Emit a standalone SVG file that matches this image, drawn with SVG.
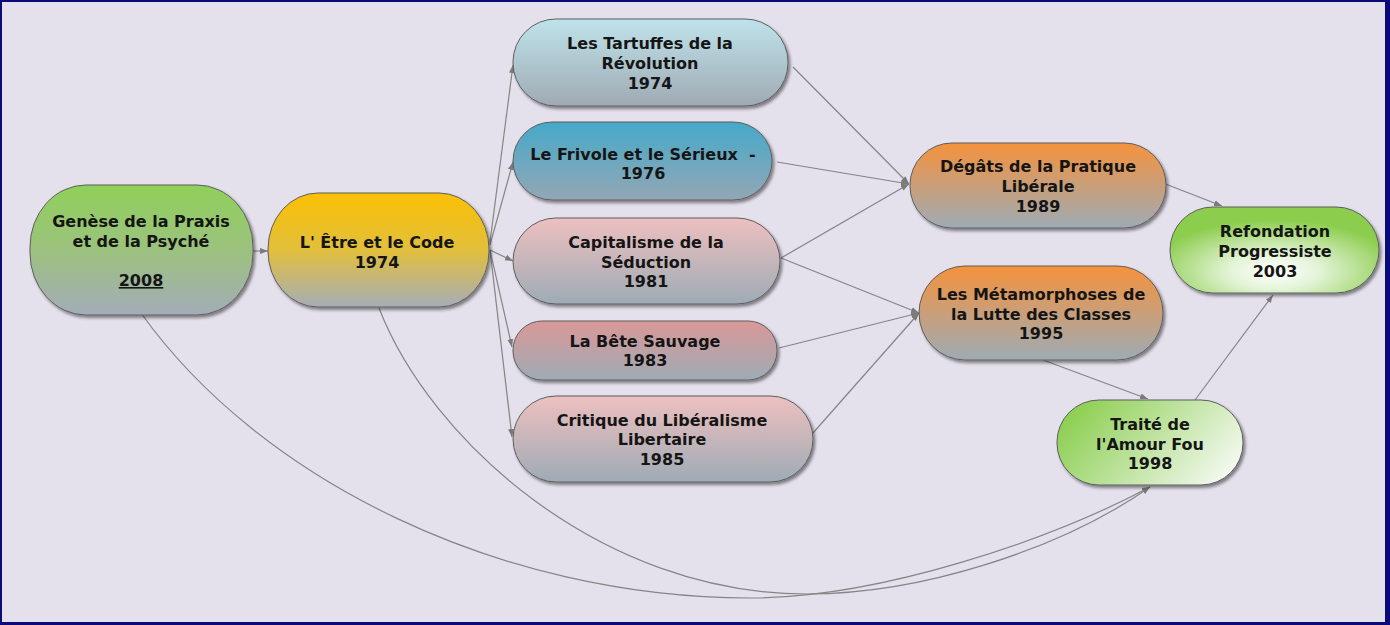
<svg xmlns="http://www.w3.org/2000/svg" width="1390" height="625" viewBox="0 0 1390 625">
<style>
.t{font-family:"DejaVu Sans",Verdana,sans-serif;font-weight:bold;font-size:16px;fill:#151515;text-anchor:middle}
.n{stroke:#5e5e5e;stroke-width:1}
.c{fill:none;stroke:#858585;stroke-width:1.2}
</style>
<defs>
<filter id="sh" x="-10%" y="-10%" width="125%" height="130%">
<feDropShadow dx="2" dy="2.5" stdDeviation="1.6" flood-color="#000" flood-opacity="0.45"/>
</filter>
<marker id="ar" markerUnits="userSpaceOnUse" markerWidth="9" markerHeight="7" refX="8" refY="3.5" orient="auto">
<path d="M0,0.5 L8,3.5 L0,6.5 Z" fill="#7a7a7a"/>
</marker>
<linearGradient id="gGen" x1="0" y1="0" x2="0" y2="1">
<stop offset="0" stop-color="#8fd05a"/><stop offset="0.5" stop-color="#9cc27e"/><stop offset="1" stop-color="#a3acb8"/>
</linearGradient>
<linearGradient id="gEtre" x1="0" y1="0" x2="0" y2="1">
<stop offset="0" stop-color="#fbc004"/><stop offset="0.5" stop-color="#e2bf3c"/><stop offset="1" stop-color="#a6adb8"/>
</linearGradient>
<linearGradient id="gTar" x1="0" y1="0" x2="0" y2="1">
<stop offset="0" stop-color="#bfe3eb"/><stop offset="1" stop-color="#9faab3"/>
</linearGradient>
<linearGradient id="gFri" x1="0" y1="0" x2="0" y2="1">
<stop offset="0" stop-color="#45a9c9"/><stop offset="1" stop-color="#93a7b5"/>
</linearGradient>
<linearGradient id="gPink" x1="0" y1="0" x2="0" y2="1">
<stop offset="0" stop-color="#eec0c0"/><stop offset="1" stop-color="#9eabb5"/>
</linearGradient>
<linearGradient id="gBete" x1="0" y1="0" x2="0" y2="1">
<stop offset="0" stop-color="#da9898"/><stop offset="1" stop-color="#9eabb5"/>
</linearGradient>
<linearGradient id="gOr" x1="0" y1="0" x2="0" y2="1">
<stop offset="0" stop-color="#f5923c"/><stop offset="1" stop-color="#9eabb5"/>
</linearGradient>
<radialGradient id="gRef" cx="0.5" cy="0.75" r="0.6">
<stop offset="0" stop-color="#ffffff"/><stop offset="0.35" stop-color="#e4f4d8"/><stop offset="1" stop-color="#8ccd4e"/>
</radialGradient>
<linearGradient id="gTra" x1="0" y1="0.3" x2="1" y2="0.7">
<stop offset="0" stop-color="#8ccf50"/><stop offset="0.5" stop-color="#bfe3a0"/><stop offset="1" stop-color="#f4f9f0"/>
</linearGradient>
</defs>
<rect x="0" y="0" width="1390" height="625" fill="#0a0a78"/>
<rect x="2" y="2" width="1383" height="620" fill="#e4e0ec"/>

<g id="connectors">
<line class="c" x1="253" y1="251" x2="268" y2="251" marker-end="url(#ar)"/>
<line class="c" x1="490" y1="242" x2="513" y2="65" marker-end="url(#ar)"/>
<line class="c" x1="490" y1="245" x2="513" y2="162" marker-end="url(#ar)"/>
<line class="c" x1="490" y1="250" x2="513" y2="261" marker-end="url(#ar)"/>
<line class="c" x1="490" y1="250" x2="512" y2="347" marker-end="url(#ar)"/>
<line class="c" x1="490" y1="250" x2="512" y2="437" marker-end="url(#ar)"/>
<line class="c" x1="793" y1="67" x2="909" y2="184" marker-end="url(#ar)"/>
<line class="c" x1="777" y1="162" x2="909" y2="184" marker-end="url(#ar)"/>
<line class="c" x1="781" y1="258" x2="909" y2="184" marker-end="url(#ar)"/>
<line class="c" x1="781" y1="258" x2="919" y2="313" marker-end="url(#ar)"/>
<line class="c" x1="779" y1="348" x2="919" y2="313" marker-end="url(#ar)"/>
<line class="c" x1="813" y1="433" x2="919" y2="313" marker-end="url(#ar)"/>
<line class="c" x1="1163" y1="183" x2="1222" y2="206" marker-end="url(#ar)"/>
<line class="c" x1="1043" y1="360" x2="1148" y2="399" marker-end="url(#ar)"/>
<line class="c" x1="1195" y1="400" x2="1273" y2="295" marker-end="url(#ar)"/>
<path class="c" d="M141,313 C260,480 500,598 750,598 C880,598 1050,540 1150,487" marker-end="url(#ar)"/>
<path class="c" d="M379,308 C430,440 600,594 807,594 C920,594 1060,550 1150,487" marker-end="url(#ar)"/>
</g>

<g id="n-genese">
<rect class="n" x="30" y="185" width="223" height="130" rx="56" ry="62" fill="url(#gGen)" filter="url(#sh)"/>
<text class="t" x="141" y="227">Genèse de la Praxis</text>
<text class="t" x="141" y="247">et de la Psyché</text>
<text class="t" x="141" y="286" text-decoration="underline">2008</text>
</g>
<g id="n-etre">
<rect class="n" x="268" y="193" width="221" height="114" rx="50" ry="56" fill="url(#gEtre)" filter="url(#sh)"/>
<text class="t" x="377" y="248">L' Être et le Code</text>
<text class="t" x="377" y="268">1974</text>
</g>
<g id="n-tartuffes">
<rect class="n" x="513" y="19" width="275" height="87" rx="43" ry="43" fill="url(#gTar)" filter="url(#sh)"/>
<text class="t" x="650" y="49">Les Tartuffes de la</text>
<text class="t" x="650" y="69">Révolution</text>
<text class="t" x="650" y="89">1974</text>
</g>
<g id="n-frivole">
<rect class="n" x="513" y="122" width="259" height="78" rx="39" ry="39" fill="url(#gFri)" filter="url(#sh)"/>
<text class="t" x="643" y="160" xml:space="preserve">Le Frivole et le Sérieux  -</text>
<text class="t" x="643" y="179">1976</text>
</g>
<g id="n-capitalisme">
<rect class="n" x="513" y="218" width="267" height="86" rx="43" ry="43" fill="url(#gPink)" filter="url(#sh)"/>
<text class="t" x="646" y="248">Capitalisme de la</text>
<text class="t" x="646" y="268">Séduction</text>
<text class="t" x="646" y="287">1981</text>
</g>
<g id="n-bete">
<rect class="n" x="513" y="321" width="264" height="59" rx="29" ry="29" fill="url(#gBete)" filter="url(#sh)"/>
<text class="t" x="645" y="347">La Bête Sauvage</text>
<text class="t" x="645" y="366">1983</text>
</g>
<g id="n-critique">
<rect class="n" x="513" y="396" width="300" height="86" rx="43" ry="43" fill="url(#gPink)" filter="url(#sh)"/>
<text class="t" x="662" y="426">Critique du Libéralisme</text>
<text class="t" x="662" y="445">Libertaire</text>
<text class="t" x="662" y="465">1985</text>
</g>
<g id="n-degats">
<rect class="n" x="910" y="143" width="256" height="85" rx="42" ry="42" fill="url(#gOr)" filter="url(#sh)"/>
<text class="t" x="1038" y="172">Dégâts de la Pratique</text>
<text class="t" x="1038" y="192">Libérale</text>
<text class="t" x="1038" y="212">1989</text>
</g>
<g id="n-metamorphoses">
<rect class="n" x="919" y="266" width="244" height="94" rx="46" ry="47" fill="url(#gOr)" filter="url(#sh)"/>
<text class="t" x="1041" y="300">Les Métamorphoses de</text>
<text class="t" x="1041" y="320">la Lutte des Classes</text>
<text class="t" x="1041" y="339">1995</text>
</g>
<g id="n-refondation">
<rect class="n" x="1170" y="207" width="209" height="86" rx="43" ry="43" fill="url(#gRef)" filter="url(#sh)"/>
<text class="t" x="1275" y="237">Refondation</text>
<text class="t" x="1275" y="257">Progressiste</text>
<text class="t" x="1275" y="277">2003</text>
</g>
<g id="n-traite">
<rect class="n" x="1057" y="400" width="186" height="85" rx="42" ry="42" fill="url(#gTra)" filter="url(#sh)"/>
<text class="t" x="1150" y="430">Traité de</text>
<text class="t" x="1150" y="450">l'Amour Fou</text>
<text class="t" x="1150" y="469">1998</text>
</g>
</svg>
